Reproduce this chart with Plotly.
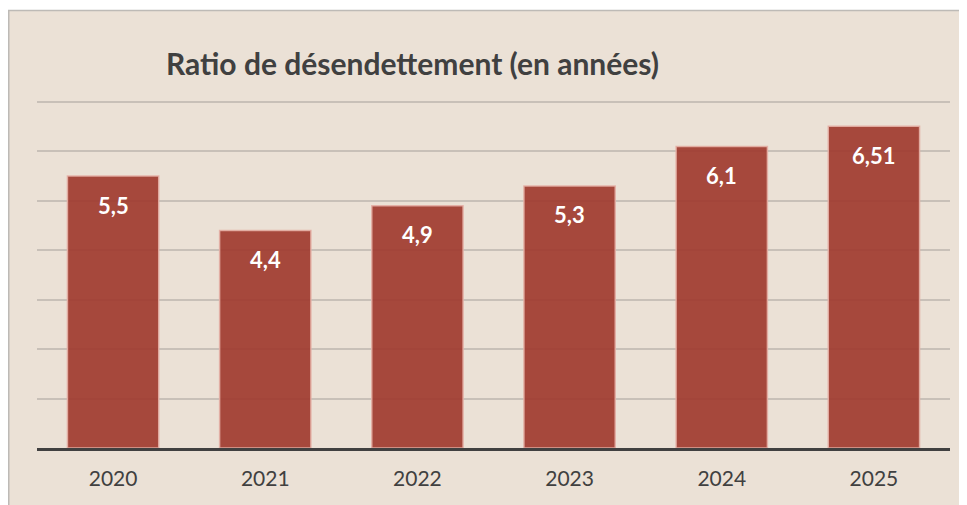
import plotly.graph_objects as go

years = ["2020", "2021", "2022", "2023", "2024", "2025"]
values = [5.5, 4.4, 4.9, 5.3, 6.1, 6.51]
labels = ["5,5", "4,4", "4,9", "5,3", "6,1", "6,51"]
title_text = "Ratio de désendettement (en années)"

# page body has an 8px margin; figure coordinates are page coordinates minus 8
W, H = 959, 497
ml, mr, mt, mb = 29, 17, 89, 57
pw = W - ml - mr
ph = H - mt - mb

fig = go.Figure()
fig.add_trace(go.Bar(
    x=years, y=values,
    marker=dict(color="rgba(160,59,47,0.92)",
                line=dict(color="rgba(228,175,165,0.9)", width=1.5)),
    width=0.6,
    hoverinfo="skip",
))

for i, (v, lab) in enumerate(zip(values, labels)):
    fig.add_annotation(x=i, y=v, text=f"<b>{lab}</b>", showarrow=False,
                       yanchor="middle", yshift=-29,
                       font=dict(family="Lato", size=22, color="white"))

# frame
fx0 = (0.75 - ml) / pw
fx1 = (W + 20 - ml) / pw
fy1 = 1 + (mt - 2.5) / ph
fy0 = -(mb + 20) / ph
fig.add_shape(type="rect", xref="paper", yref="paper",
              x0=fx0, x1=fx1, y0=fy0, y1=fy1, layer="below",
              fillcolor="#ebe1d6", line=dict(color="#bdbab6", width=1.5))

fig.update_layout(
    width=W, height=H,
    margin=dict(l=ml, r=mr, t=mt, b=mb, pad=0),
    paper_bgcolor="white",
    plot_bgcolor="rgba(0,0,0,0)",
    showlegend=False,
    title=dict(text=f"<b>{title_text}</b>", xref="container", yref="container",
               x=158 / W, xanchor="left", y=1 - 56 / H, yanchor="middle",
               font=dict(family="Lato", size=30, color="#404040")),
    xaxis=dict(type="category", range=[-0.5, len(years) - 0.5], autorange=False,
               showline=True, linecolor="#404040", linewidth=3,
               ticks="outside", ticklen=10, tickcolor="rgba(0,0,0,0)",
               tickfont=dict(family="Lato", size=21, color="#404040"),
               showgrid=False, fixedrange=True),
    yaxis=dict(range=[0, 7.1], autorange=False, dtick=1, showticklabels=False, ticks="",
               showgrid=True, gridcolor="rgb(200,192,184)", gridwidth=1.5,
               zeroline=False, fixedrange=True),
)

fig.write_html("out.html")
